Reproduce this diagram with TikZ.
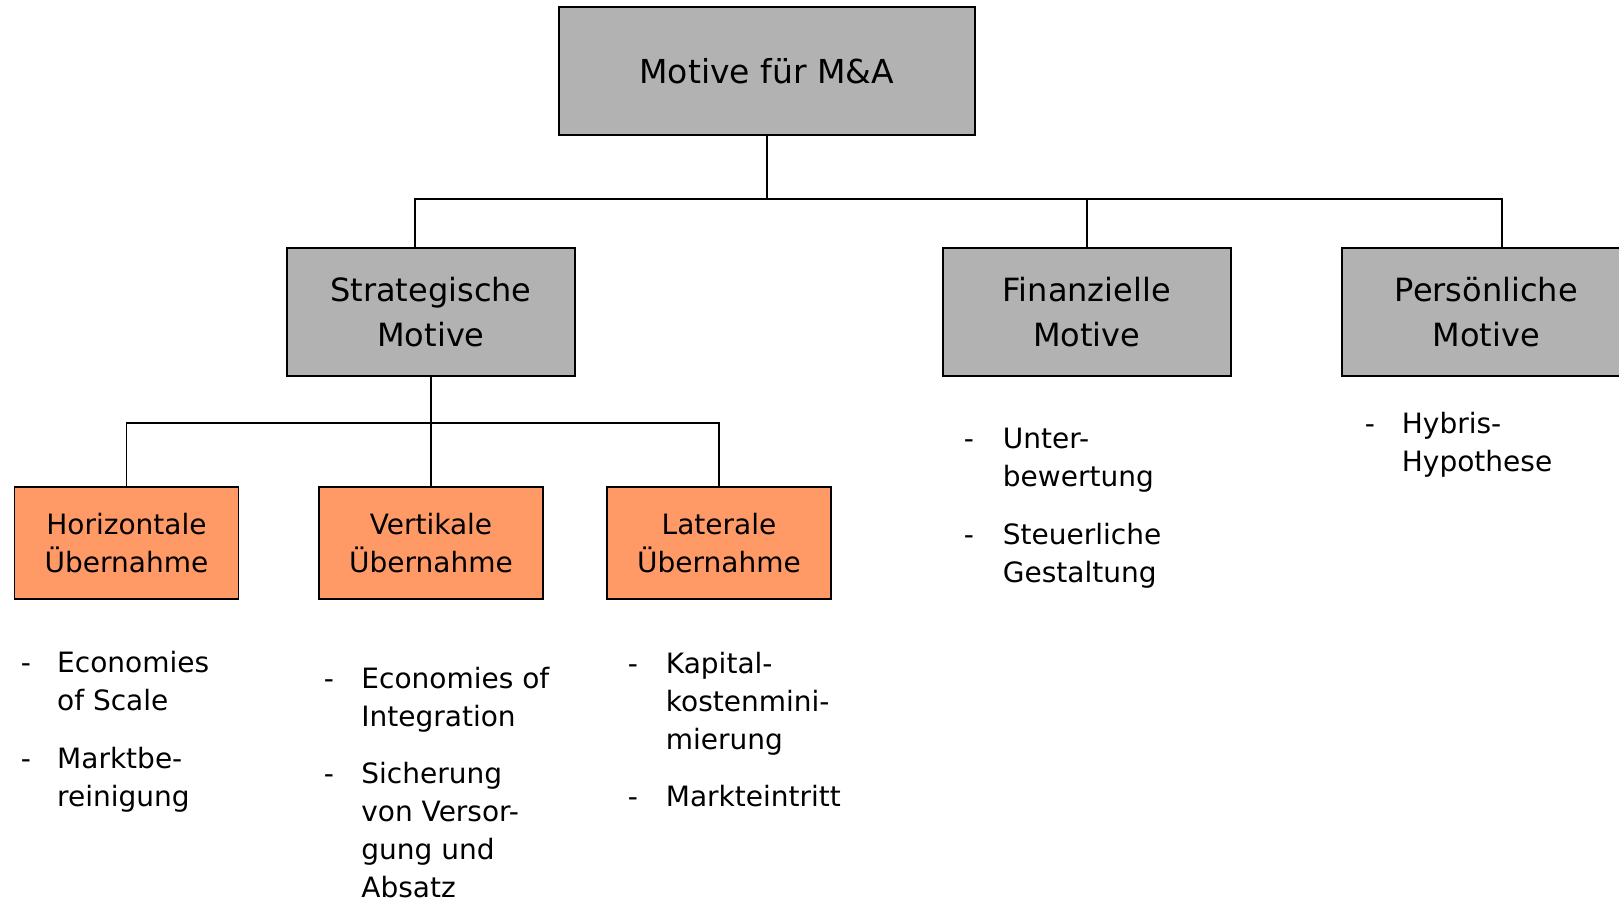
\documentclass[tikz,border=0pt]{standalone}
\usepackage{fontspec}
\setmainfont{DejaVu Sans}
\definecolor{boxgray}{HTML}{B2B2B2}
\definecolor{boxorange}{HTML}{FF9966}
\begin{document}
\begin{tikzpicture}[x=1pt,y=-1pt,line width=1.8pt,
  rootbox/.style={draw=black, fill=boxgray, minimum width=416pt, minimum height=128pt,
    inner sep=0pt, align=center, font=\fontsize{33}{44.5}\selectfont},
  motivebox/.style={draw=black, fill=boxgray, minimum width=288pt, minimum height=128pt,
    inner sep=0pt, align=center, font=\fontsize{32}{44.5}\selectfont},
  subbox/.style={draw=black, fill=boxorange, minimum width=224pt, minimum height=111.5pt,
    inner sep=0pt, align=center, font=\fontsize{28}{38.2}\selectfont},
  dashmark/.style={anchor=base west, inner sep=0pt, font=\fontsize{28}{38.2}\selectfont},
  % multi-line text: the base anchor sits on the last line
  itemtext/.style={anchor=base west, inner sep=0pt, align=left, font=\fontsize{28}{38.2}\selectfont},
  link/.style={draw=black, line width=1.8pt}]
\clip (0,0) rectangle (1619,903);
\fill[white] (0,0) rectangle (1619,903);

% boxes
\node[rootbox]   (root)  at (766.7,71.3) {Motive für M\&A};
\node[motivebox] (strat) at (431,312)    {Strategische\\Motive};
\node[motivebox] (fin)   at (1086.7,312) {Finanzielle\\Motive};
\node[motivebox] (pers)  at (1486.3,312) {Persönliche\\Motive};
\node[subbox]    (hor)   at (126.5,543)  {Horizontale\\Übernahme};
\node[subbox]    (ver)   at (431,543)    {Vertikale\\Übernahme};
\node[subbox]    (lat)   at (719,543)    {Laterale\\Übernahme};

% first level connectors
\coordinate (busL) at (415,199.3);
\coordinate (busR) at (1502.3,199.3);
\draw[link] (root.south) -- (root.south |- busL);
\draw[link] (strat.north -| busL) |- (busR) -- (busR |- pers.north);
\draw[link] (fin.north) -- (fin.north |- busL);

% second level connectors
\coordinate (bus2) at (0,423.3);
\draw[link] (strat.south) -- (ver.north);
\draw[link] (hor.north) |- (lat.north |- bus2) -- (lat.north);

% horizontal
\node[dashmark] (hd1) at (20,672) {-};
\node[itemtext] (hi1) at (56.3,710.2) {Economies\\of Scale};
\node[dashmark] (hd2) at (20,768) {-};
\node[itemtext] (hi2) at (56.3,806.2) {Marktbe-\\reinigung};

% vertical
\node[dashmark] (vd1) at (323,688) {-};
\node[itemtext] (vi1) at (360.5,726.2) {Economies of\\Integration};
\node[dashmark] (vd2) at (323,783) {-};
\node[itemtext] (vi2) at (360.5,897.6) {Sicherung\\von Versor-\\gung und\\Absatz};

% lateral
\node[dashmark] (ld1) at (627,673) {-};
\node[itemtext] (li1) at (665,749.4) {Kapital-\\kostenmini-\\mierung};
\node[dashmark] (ld2) at (627,806) {-};
\node[itemtext] (li2) at (665,806) {Markteintritt};

% financial
\node[dashmark] (fd1) at (963,448) {-};
\node[itemtext] (fi1) at (1002,486.2) {Unter-\\bewertung};
\node[dashmark] (fd2) at (963,544) {-};
\node[itemtext] (fi2) at (1002,582.2) {Steuerliche\\Gestaltung};

% personal
\node[dashmark] (pd1) at (1364,433) {-};
\node[itemtext] (pi1) at (1401,471.2) {Hybris-\\Hypothese};
\end{tikzpicture}
\end{document}
